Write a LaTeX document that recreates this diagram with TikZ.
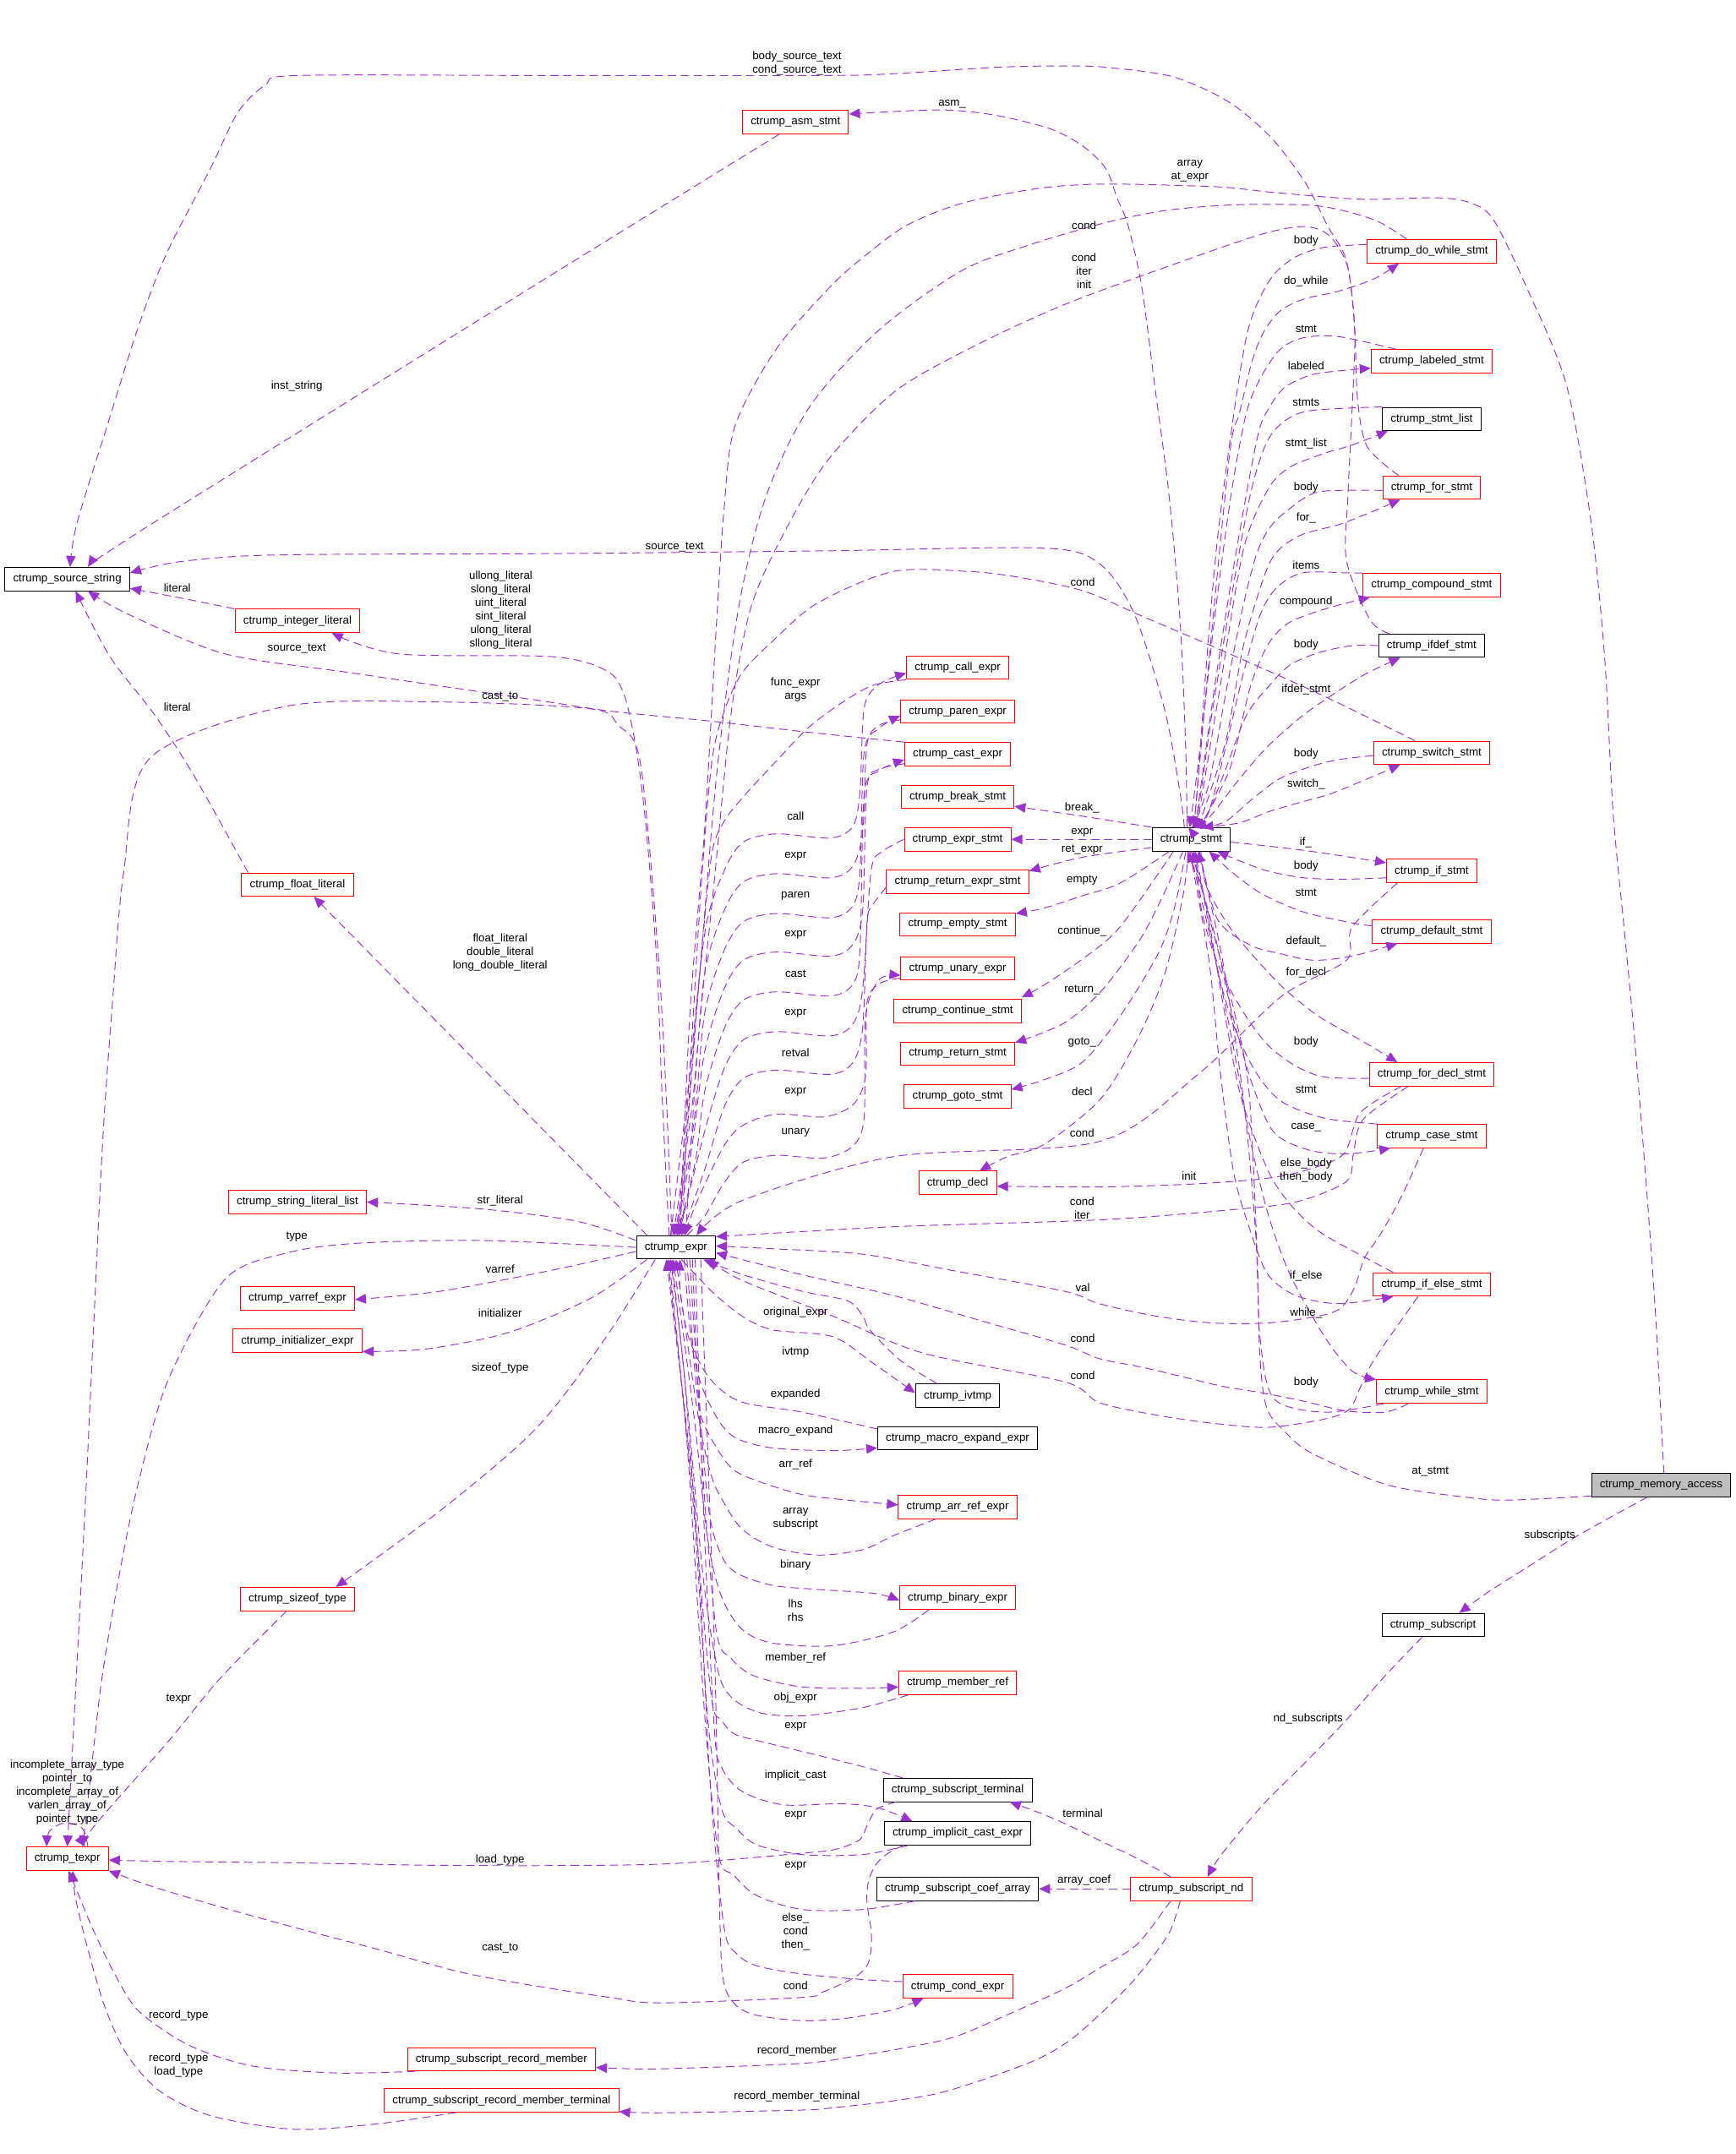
\documentclass[tikz,border=0pt]{standalone}
\usepackage{fontspec}
\setmainfont{Liberation Sans}
\usetikzlibrary{arrows.meta}

\definecolor{edgecol}{RGB}{154,50,205}
\definecolor{mainfill}{RGB}{191,191,191}

\tikzset{
  cls/.style={draw=red,line width=.6pt,minimum height=17pt,inner xsep=6pt,inner ysep=0pt},
  doc/.style={cls,draw=black},
  focus/.style={doc,fill=mainfill},
  lbl/.style={inner sep=0pt,align=center},
  edge/.style={draw=edgecol,line width=.6pt,dash pattern=on 6pt off 3.5pt,
               -{Triangle[length=8pt,width=7pt]}}
}

\begin{document}
\begin{tikzpicture}[x=1pt,y=-1pt,every node/.style={font=\fontsize{8.2}{9.85}\selectfont}]
\useasboundingbox (0,0) rectangle (1263,1568);

\node[doc] (srcstr) at (49,421.5) {ctrump\_source\_string};
\node[cls] (intlit) at (216.5,452) {ctrump\_integer\_literal};
\node[cls] (floatlit) at (216.5,644) {ctrump\_float\_literal};
\node[cls] (strlist) at (216.5,875) {ctrump\_string\_literal\_list};
\node[cls] (varref) at (216.5,945) {ctrump\_varref\_expr};
\node[cls] (initexpr) at (216.5,976) {ctrump\_initializer\_expr};
\node[cls] (sizeoft) at (216.5,1164) {ctrump\_sizeof\_type};
\node[cls] (texpr) at (49,1353) {ctrump\_texpr};
\node[cls] (recmem) at (365,1499) {ctrump\_subscript\_record\_member};
\node[cls] (recmemt) at (365,1529) {ctrump\_subscript\_record\_member\_terminal};

\node[doc] (expr) at (492,908) {ctrump\_expr};
\node[cls] (asmstmt) at (579,89) {ctrump\_asm\_stmt};
\node[cls] (callexpr) at (697,486) {ctrump\_call\_expr};
\node[cls] (parenexpr) at (697,518) {ctrump\_paren\_expr};
\node[cls] (castexpr) at (697,549) {ctrump\_cast\_expr};
\node[cls] (breakstmt) at (697,580) {ctrump\_break\_stmt};
\node[cls] (exprstmt) at (697,611) {ctrump\_expr\_stmt};
\node[cls] (retexpr) at (697,642) {ctrump\_return\_expr\_stmt};
\node[cls] (emptystmt) at (697,673) {ctrump\_empty\_stmt};
\node[cls] (unaryexpr) at (697,705) {ctrump\_unary\_expr};
\node[cls] (contstmt) at (697,736) {ctrump\_continue\_stmt};
\node[cls] (retstmt) at (697,767) {ctrump\_return\_stmt};
\node[cls] (gotostmt) at (697,798) {ctrump\_goto\_stmt};
\node[cls] (decl) at (697,861) {ctrump\_decl};
\node[doc] (ivtmp) at (697,1016) {ctrump\_ivtmp};
\node[doc] (macroexp) at (697,1047) {ctrump\_macro\_expand\_expr};
\node[cls] (arrref) at (697,1097) {ctrump\_arr\_ref\_expr};
\node[cls] (binexpr) at (697,1163) {ctrump\_binary\_expr};
\node[cls] (memref) at (697,1225) {ctrump\_member\_ref};
\node[doc] (subterm) at (697,1303) {ctrump\_subscript\_terminal};
\node[doc] (implcast) at (697,1334.5) {ctrump\_implicit\_cast\_expr};
\node[doc] (coefarr) at (697,1375) {ctrump\_subscript\_coef\_array};
\node[cls] (condexpr) at (697,1446) {ctrump\_cond\_expr};

\node[doc] (stmt) at (867,611) {ctrump\_stmt};
\node[cls] (dowhile) at (1042,183) {ctrump\_do\_while\_stmt};
\node[cls] (labeled) at (1042,263) {ctrump\_labeled\_stmt};
\node[doc] (stmtlist) at (1042,305) {ctrump\_stmt\_list};
\node[cls] (forstmt) at (1042,355) {ctrump\_for\_stmt};
\node[cls] (compound) at (1042,426) {ctrump\_compound\_stmt};
\node[doc] (ifdef) at (1042,470) {ctrump\_ifdef\_stmt};
\node[cls] (switchst) at (1042,548) {ctrump\_switch\_stmt};
\node[cls] (ifstmt) at (1042,634) {ctrump\_if\_stmt};
\node[cls] (defaultst) at (1042,678) {ctrump\_default\_stmt};
\node[cls] (fordecl) at (1042,782) {ctrump\_for\_decl\_stmt};
\node[cls] (casest) at (1042,827) {ctrump\_case\_stmt};
\node[cls] (ifelse) at (1042,935) {ctrump\_if\_else\_stmt};
\node[cls] (whilest) at (1042,1013) {ctrump\_while\_stmt};
\node[focus] (memacc) at (1209,1081) {ctrump\_memory\_access};
\node[doc] (subscr) at (1043,1183) {ctrump\_subscript};
\node[cls] (subnd) at (867,1375) {ctrump\_subscript\_nd};

\draw[edge] plot[smooth] coordinates {([xshift=-31pt]ifdef.north) (997,451) (980,408) (981,362) (984,300) (986,240) (980,190) (966,164) (950,133) (925,100) (894,74) (854,56) (805,49) (773,48) (725,49) (644,54) (592,55) (400,55) (216,55) (193,62) (173,82) (153,123) (121,185) (100,240) (78,310) (56,381) ([xshift=2pt]srcstr.north)};
\draw[edge] plot[smooth] coordinates {([xshift=-12pt]asmstmt.south) (387,209) (111,381) ([xshift=15pt]srcstr.north)};
\draw[edge] plot[smooth] coordinates {([xshift=-5pt]stmt.north) (859,578) (848,518) (826,448) (801,411) (760,399) (600,401) (400,403) (200,404) (130,409) ([yshift=4.5pt]srcstr.east)};
\draw[edge] plot[smooth] coordinates {(intlit.north west) (135,436) ([yshift=2pt]srcstr.south east)};
\draw[edge] plot[smooth] coordinates {(castexpr.north west) (588,533) (518,525) (447,518) (386,509) (257,490) (164,476) (93,447) ([xshift=15pt]srcstr.south)};
\draw[edge] plot[smooth] coordinates {([xshift=5pt]floatlit.north west) (142,566) (113,521) (80,478) ([xshift=6pt]srcstr.south)};

\draw[edge] plot[smooth] coordinates {([xshift=-5pt]expr.north) (482,800) (478,700) (470,600) (463,545) (454,505) (441,488) (402,478) (290,476) ([xshift=25pt]intlit.south)};
\draw[edge] plot[smooth] coordinates {([xshift=-3pt]expr.north) (485,800) (479,694) (466,555) (450,528) (430,516) (322,511) (209,514) (109,552) (90,635) (82,728) (74,844) (62,1096) (texpr.north)};
\draw[edge] plot coordinates {([xshift=8pt]expr.north west) ([xshift=12pt]floatlit.south)};
\draw[edge] plot[smooth] coordinates {([yshift=5pt]expr.west) (420,889) (350,880) (strlist.east)};
\draw[edge] plot[smooth] coordinates {([yshift=-3pt]expr.west) (400,925) (320,940) ([yshift=-1pt]varref.east)};
\draw[edge] plot[smooth] coordinates {([xshift=8pt]expr.south west) (430,945) (370,970) (310,982) ([yshift=1pt]initexpr.south east)};
\draw[edge] plot[smooth] coordinates {([xshift=14pt]expr.south west) (440,975) (390,1040) (320,1100) ([xshift=28pt]sizeoft.north)};
\draw[edge] plot[smooth] coordinates {(expr.west) (350,903) (260,905) (209,912) (164,931) (123,1003) (102,1074) (88,1140) (74,1223) (63,1320) ([xshift=11pt]texpr.north)};

\draw[edge] plot[smooth] coordinates {([xshift=-8pt]sizeoft.south) (160,1222) (123,1267) (68,1330) ([xshift=13pt]texpr.north)};
\draw[edge] plot[smooth] coordinates {([xshift=15pt]texpr.north) (60,1331) (47,1327) (36,1333) ([xshift=-15pt]texpr.north)};
\draw[edge] plot[smooth] coordinates {([xshift=6pt]recmem.south west) (245,1509) (184,1504) (138,1489) (101,1464) (83,1436) (67,1403) (55,1374) ([xshift=1pt]texpr.south)};
\draw[edge] plot[smooth] coordinates {([xshift=-33pt]recmemt.south) (275,1546) (214,1550) (153,1540) (116,1522) (92,1495) (76,1460) (64,1419) (55,1382) ([xshift=4pt]texpr.south)};
\draw[edge] plot[smooth] coordinates {([xshift=-45pt]subterm.south) (638,1317) (631,1329) (626,1339) (609,1346) (584,1349) (480,1357) (337,1358) (214,1356) (122,1355) ([yshift=-1pt]texpr.east)};
\draw[edge] plot[smooth] coordinates {([xshift=-40pt]implcast.south) (645,1350) (637,1358) (632,1370) (631,1385) (634,1405) (634,1419) (631,1431) (621,1440) (599,1450) (584,1454) (480,1458) (444,1454) (398,1447) (337,1436) (275,1419) (214,1403) (153,1386) (107,1372) (texpr.south east)};

\draw[edge] plot[smooth] coordinates {([xshift=-15pt]subnd.south) (828,1415) (803,1431) (774,1448) (730,1468) (694,1483) (657,1491) (621,1497) (584,1502) (480,1506) ([yshift=-6pt]recmem.east)};
\draw[edge] plot[smooth] coordinates {([xshift=-8pt]subnd.south) (852,1405) (840,1423) (823,1444) (803,1464) (779,1485) (755,1499) (718,1513) (682,1524) (645,1530) (609,1534) (584,1536) (480,1538) ([yshift=-8pt]recmemt.east)};
\draw[edge] plot[smooth] coordinates {([xshift=-15pt]subnd.north) (828,1353) (803,1341) (774,1327) (755,1319) ([xshift=38pt]subterm.south)};
\draw[edge] (subnd.west) -- (coefarr.east);
\draw[edge] plot[smooth] coordinates {([xshift=-8pt]subscr.south) (1008,1220) (979,1253) (949,1284) (919,1314) (889,1350) ([xshift=12pt]subnd.north)};
\draw[edge] plot[smooth] coordinates {([xshift=-10pt]memacc.south) (1173,1104) (1143,1121) (1113,1140) (1083,1159) ([xshift=19pt]subscr.north)};
\draw[edge] plot[smooth] coordinates {([yshift=-8pt]memacc.west) (1098,1092) (1068,1090) (1010,1081) (955,1058) (935,1042) (922,1025) (917,988) (914,900) (905,800) (890,700) (877,640) ([xshift=5pt]stmt.south)};
\draw[edge] plot[smooth] coordinates {([xshift=2pt]memacc.north) (1209,1034) (1205,958) (1199,873) (1190,760) (1182,675) (1174,591) (1168,480) (1158,380) (1140,280) (1111,209) (1087,160) (1071,148) (1047,144) (990,145) (926,140) (886,136) (805,134) (757,137) (700,148) (660,164) (631,185) (604,209) (565,254) (535,310) (527,370) (521,462) (513,601) (502,740) ([xshift=3pt]expr.north)};

\draw[edge] plot[smooth] coordinates {([xshift=-18pt]dowhile.north) (1000,160) (960,150) (902,149) (850,153) (805,162) (750,178) (700,197) (640,240) (590,295) (558,360) (538,440) (522,560) (510,700) (500,820) ([xshift=5pt]expr.north)};
\draw[edge] plot[smooth] coordinates {([xshift=-24pt]forstmt.north) (995,325) (988,290) (986,240) (981,195) (968,172) (950,165) (920,170) (861,190) (774,222) (705,254) (650,286) (601,337) (568,393) (546,444) (532,520) (520,640) (508,760) ([xshift=7pt]expr.north)};
\draw[edge] plot[smooth] coordinates {([xshift=-12pt]switchst.north) (960,505) (886,472) (830,448) (788,430) (740,420) (705,416) (650,416) (595,439) (562,467) (540,490) (527,518) (518,555) (510,650) (502,780) ([xshift=1pt]expr.north)};
\draw[edge] plot[smooth] coordinates {(callexpr.south west) (635,499) (612,512) (588,530) (565,554) (541,580) (527,598) (518,622) (510,700) (502,800) ([xshift=2pt]expr.north)};

\draw[edge] plot[smooth] coordinates {([xshift=-4pt]expr.north) (500,800) (513,679) (527,634) (541,613) (565,607) (605,610) (621,601) (626,575) (629,515) (640,498) ([yshift=-4pt]callexpr.west)};
\draw[edge] plot[smooth] coordinates {([yshift=-6pt]parenexpr.west) (640,528) (631,542) (628,604) (621,630) (605,639) (565,636) (541,642) (527,663) (513,708) (504,803) ([xshift=-2pt]expr.north)};
\draw[edge] plot[smooth] coordinates {([xshift=-1pt]expr.north) (505,817) (513,737) (527,692) (541,671) (565,665) (605,668) (621,659) (626,633) (629,547) (640,530) ([yshift=-3pt]parenexpr.west)};
\draw[edge] plot[smooth] coordinates {([yshift=-7pt]castexpr.west) (640,560) (631,573) (628,661) (621,687) (605,696) (565,693) (541,699) (527,720) (513,765) (504,832) (expr.north)};
\draw[edge] plot[smooth] coordinates {([xshift=1pt]expr.north) (506,846) (513,794) (527,749) (541,728) (565,722) (605,725) (621,716) (626,690) (629,578) (640,561) ([yshift=-4pt]castexpr.west)};
\draw[edge] plot[smooth] coordinates {(exprstmt.west) (642,620) (634,634) (628,719) (621,745) (605,754) (565,751) (541,757) (527,778) (513,823) ([xshift=2pt]expr.north)};
\draw[edge] plot[smooth] coordinates {([yshift=-4pt]retexpr.west) (635,659) (631,672) (628,747) (621,773) (605,782) (565,779) (541,785) (527,806) (513,851) ([xshift=4pt]expr.north)};
\draw[edge] plot[smooth] coordinates {([yshift=-7pt]unaryexpr.west) (640,716) (631,730) (630,783) (621,804) (600,813) (565,811) (541,819) (527,834) (508,873) ([xshift=6pt]expr.north)};
\draw[edge] plot[smooth] coordinates {([xshift=8pt]expr.north) (513,885) (527,861) (541,846) (565,841) (600,843) (621,834) (629,813) (630,740) (640,713) ([yshift=-5pt]unaryexpr.west)};

\draw[edge] plot[smooth] coordinates {([xshift=-15pt]ivtmp.north) (655,990) (633,968) (628,958) (617,947) (584,940) (541,928) ([xshift=20pt]expr.south)};
\draw[edge] plot[smooth] coordinates {([xshift=4pt]expr.south) (518,940) (540,958) (562,968) (606,973) (635,992) ([yshift=2pt]ivtmp.west)};
\draw[edge] plot[smooth] coordinates {([yshift=-2pt]macroexp.north west) (584,1028) (545,1022) (529,1015) (514,1000) (501,973) (495,940) ([xshift=3pt]expr.south)};
\draw[edge] plot[smooth] coordinates {([xshift=6pt]expr.south) (503,975) (510,1007) (523,1034) (536,1047) (562,1054) (606,1056) ([yshift=-7pt]macroexp.west)};
\draw[edge] plot[smooth] coordinates {([xshift=8pt]expr.south) (505,990) (510,1030) (521,1053) (534,1070) (554,1079) (584,1088) (617,1092) ([yshift=1.5pt]arrref.west)};
\draw[edge] plot[smooth] coordinates {([xshift=-16pt]arrref.south) (650,1118) (628,1128) (595,1132) (562,1126) (540,1113) (527,1094) (518,1075) (508,1030) (expr.south)};
\draw[edge] plot[smooth] coordinates {([xshift=10pt]expr.south) (508,1010) (516,1100) (525,1132) (536,1145) (562,1154) (595,1157) (637,1160) ([yshift=-2pt]binexpr.west)};
\draw[edge] plot[smooth] coordinates {([xshift=-21pt]binexpr.south) (650,1188) (606,1198) (562,1196) (540,1186) (525,1162) (515,1120) (505,1030) ([xshift=-2pt]expr.south)};
\draw[edge] plot[smooth] coordinates {([xshift=12pt]expr.south) (510,1050) (521,1185) (532,1207) (549,1220) (584,1228) (628,1229) ([yshift=-3pt]memref.west)};
\draw[edge] plot[smooth] coordinates {([xshift=-36pt]memref.south) (628,1243) (584,1249) (554,1247) (534,1237) (523,1218) (512,1150) (500,1020) ([xshift=-3pt]expr.south)};
\draw[edge] plot[smooth] coordinates {([xshift=-40pt]subterm.north) (628,1286) (584,1275) (551,1267) (534,1262) (525,1252) (518,1237) (508,1130) (498,1000) ([xshift=-4pt]expr.south)};
\draw[edge] plot[smooth] coordinates {([xshift=14pt]expr.south) (512,1100) (520,1260) (525,1286) (536,1301) (551,1309) (573,1314) (613,1313) (639,1316) ([xshift=-33pt]implcast.north)};
\draw[edge] plot[smooth] coordinates {([xshift=-36pt]implcast.south) (628,1350) (584,1350) (551,1343) (536,1331) (525,1316) (515,1250) (505,1100) ([xshift=-5pt]expr.south)};
\draw[edge] plot[smooth] coordinates {([xshift=-31pt]coefarr.south) (628,1390) (584,1390) (551,1380) (534,1365) (523,1350) (513,1250) (500,1050) ([xshift=-6pt]expr.south)};
\draw[edge] plot[smooth] coordinates {([yshift=3.5pt]condexpr.west) (628,1441) (584,1437) (551,1431) (536,1422) (527,1403) (517,1300) (506,1100) ([xshift=-7pt]expr.south)};
\draw[edge] plot[smooth] coordinates {([xshift=18pt]expr.south) (520,1200) (524,1400) (527,1444) (536,1460) (551,1467) (584,1471) (617,1469) (650,1463) ([xshift=-25pt]condexpr.south)};

\draw[edge] plot[smooth] coordinates {([yshift=5pt]dowhile.west) (964,180) (943,187) (927,200) (915,221) (907,246) (898,301) (886,393) (878,484) (870,590) ([xshift=-2pt]stmt.north)};
\draw[edge] plot[smooth] coordinates {([xshift=2pt]stmt.north) (880,480) (895,330) (902,301) (911,264) (919,243) (931,227) (948,218) (974,212) (1000,203) ([xshift=-24pt]dowhile.south)};
\draw[edge] plot[smooth] coordinates {([xshift=-26pt]labeled.north) (974,245) (948,246) (931,255) (917,276) (907,301) (896,360) (884,450) (874,540) ([xshift=-1pt]stmt.north)};
\draw[edge] plot[smooth] coordinates {([xshift=3pt]stmt.north) (884,500) (900,400) (915,319) (923,298) (935,282) (954,273) (974,270) ([yshift=-5pt]labeled.west)};
\draw[edge] plot[smooth] coordinates {(stmtlist.north west) (953,299) (933,308) (921,324) (910,360) (897,430) (882,520) (872,590) (stmt.north)};
\draw[edge] plot[smooth] coordinates {([xshift=4pt]stmt.north) (888,500) (905,400) (923,356) (939,340) (964,330) (984,324) ([xshift=-32pt]stmtlist.south)};
\draw[edge] plot[smooth] coordinates {([yshift=-2pt]forstmt.west) (960,358) (939,370) (925,383) (915,402) (905,440) (893,500) (880,570) ([xshift=1pt]stmt.north)};
\draw[edge] plot[smooth] coordinates {([xshift=5pt]stmt.north) (892,540) (905,470) (921,417) (931,400) (948,389) (974,382) (995,374) ([xshift=-23pt]forstmt.south)};
\draw[edge] plot[smooth] coordinates {(compound.north west) (980,417) (948,417) (929,428) (917,448) (905,490) (893,540) (880,590) ([xshift=2pt]stmt.north)};
\draw[edge] plot[smooth] coordinates {([xshift=6pt]stmt.north) (895,560) (910,500) (923,469) (937,454) (956,446) (976,440) ([xshift=-45pt]compound.south)};
\draw[edge] plot[smooth] coordinates {(ifdef.west) (984,470) (960,475) (939,484) (923,500) (907,521) (892,560) (878,595) ([xshift=3pt]stmt.north)};
\draw[edge] plot[smooth] coordinates {([xshift=7pt]stmt.north) (886,588) (902,567) (923,543) (948,521) (974,503) (995,490) ([xshift=-23pt]ifdef.south)};
\draw[edge] plot[smooth] coordinates {([yshift=-2pt]switchst.west) (974,553) (954,558) (931,567) (911,582) (892,598) ([xshift=8pt]stmt.north)};
\draw[edge] plot[smooth] coordinates {([xshift=9pt]stmt.north) (902,599) (923,591) (943,585) (968,578) (995,567) ([xshift=-23pt]switchst.south)};

\draw[edge] plot[smooth] coordinates {([yshift=-2pt]stmt.east) (949,619) ([yshift=6pt]ifstmt.west)};
\draw[edge] plot[smooth] coordinates {([yshift=-5pt]ifstmt.west) (979,640) (949,639) (919,633) ([xshift=19pt]stmt.south)};
\draw[edge] plot[smooth] coordinates {([yshift=4pt]defaultst.west) (985,672) (949,664) (919,651) (898,636) ([xshift=13pt]stmt.south)};
\draw[edge] plot[smooth] coordinates {([xshift=6pt]stmt.south) (886,669) (910,688) (931,694) (956,699) (984,696) ([xshift=-25pt]defaultst.south)};
\draw[edge] plot[smooth] coordinates {([xshift=7pt]stmt.south) (878,645) (895,675) (915,699) (935,720) (960,740) (990,757) ([xshift=-25pt]fordecl.north)};
\draw[edge] plot[smooth] coordinates {([yshift=-3pt]fordecl.west) (964,784) (943,776) (923,761) (907,740) (892,714) (882,690) (874,660) ([xshift=3pt]stmt.south)};
\draw[edge] plot[smooth] coordinates {(casest.north west) (964,814) (933,802) (915,782) (900,752) (888,714) (880,675) (874,640) ([xshift=2pt]stmt.south)};
\draw[edge] plot[smooth] coordinates {(stmt.south) (884,680) (896,735) (911,788) (927,824) (952,837) (980,840) ([xshift=-30pt]casest.south)};
\draw[edge] plot[smooth] coordinates {([xshift=-28pt]ifelse.north) (964,899) (943,881) (927,860) (915,833) (902,794) (890,730) (878,660) ([xshift=1pt]stmt.south)};
\draw[edge] plot[smooth] coordinates {([xshift=-1pt]stmt.south) (880,700) (888,779) (898,854) (911,899) (923,928) (943,943) (974,949) ([xshift=-28pt]ifelse.south)};
\draw[edge] plot[smooth] coordinates {([xshift=-1pt]stmt.south) (885,700) (898,764) (910,830) (923,884) (939,928) (964,973) (984,998) (whilest.north west)};
\draw[edge] plot[smooth] coordinates {([xshift=-35pt]whilest.south) (964,1028) (927,1018) (917,973) (915,913) (909,794) (898,735) (886,690) (874,645) ([xshift=-3pt]stmt.south)};

\draw[edge] plot[smooth] coordinates {(stmt.north west) (787,594) ([yshift=-7pt]breakstmt.east)};
\draw[edge] (stmt.west) -- (exprstmt.east);
\draw[edge] plot[smooth] coordinates {([yshift=-6pt]stmt.west) (788,624) ([yshift=8pt]retexpr.east)};
\draw[edge] plot[smooth] coordinates {([xshift=-16pt]stmt.south) (815,643) (788,652) (760,661) ([yshift=8pt]emptystmt.east)};
\draw[edge] plot[smooth] coordinates {([xshift=-13pt]stmt.south) (815,675) (788,698) (760,717) ([yshift=10pt]contstmt.east)};
\draw[edge] plot[smooth] coordinates {([xshift=-6pt]stmt.south) (845,655) (829,685) (801,722) (774,745) ([yshift=8pt]retstmt.east)};
\draw[edge] plot[smooth] coordinates {([xshift=-4pt]stmt.south) (855,660) (843,694) (815,740) (788,773) (760,786) ([yshift=5pt]gotostmt.east)};
\draw[edge] plot[smooth] coordinates {([xshift=-2pt]stmt.south) (861,652) (848,708) (829,754) (801,800) (760,833) (733,842) ([xshift=16pt]decl.north)};
\draw[edge] plot[smooth] coordinates {([xshift=-22pt]fordecl.south) (990,810) (978,840) (950,852) (920,858) (866,862) (800,864) ([yshift=-2.5pt]decl.east)};
\draw[edge] plot[smooth] coordinates {([xshift=-17pt]fordecl.south) (992,815) (985,840) (980,860) (943,875) (892,881) (800,888) (650,893) ([yshift=-1pt]expr.north east)};
\draw[edge] plot[smooth] coordinates {([xshift=-25pt]ifstmt.south) (984,675) (980,699) (933,725) (872,782) (800,831) (650,842) (540,874) ([xshift=15pt]expr.north)};
\draw[edge] plot[smooth] coordinates {([xshift=-6pt]casest.south) (1021,869) (1005,898) (993,916) (986,937) (976,952) (960,958) (923,963) (882,963) (841,958) (800,949) (775,940) (694,925) (628,913) (562,909) ([yshift=1pt]expr.east)};
\draw[edge] plot[smooth] coordinates {([xshift=-17pt]whilest.south) (1008,1028) (979,1027) (949,1020) (919,1014) (889,1009) (860,1002) (830,995) (800,989) (775,979) (716,962) (650,943) (584,928) ([yshift=-4pt]expr.east)};
\draw[edge] plot[smooth] coordinates {([xshift=-10pt]ifelse.south) (1020,961) (1008,978) (997,995) (990,1010) (982,1026) (964,1033) (923,1039) (882,1036) (841,1030) (800,1021) (775,1006) (672,985) (606,958) (540,932) ([xshift=-6pt]expr.south east)};
\draw[edge] plot[smooth] coordinates {([xshift=-3pt]stmt.north) (863,546) (859,454) (851,362) (841,285) (831,209) (821,164) (813,144) (805,123) (789,107) (765,94) (725,84) (684,80) ([yshift=6pt]asmstmt.east)};

\node[lbl] (l-bst) at (580,46) {body\_source\_text\\cond\_source\_text};
\node[lbl] (l-asm) at (693,76) {asm\_};
\node[lbl] (l-arr) at (866,124.5) {array\\at\_expr};
\node[lbl] (l-dwc) at (789,164) {cond};
\node[lbl] (l-fci) at (789,197.5) {cond\\iter\\init};
\node[lbl] (l-inst) at (216,281) {inst\_string};
\node[lbl] (l-src1) at (491,398.5) {source\_text};
\node[lbl] (l-swc) at (788,423.5) {cond};
\node[lbl] (l-lit1) at (129,428) {literal};
\node[lbl] (l-ull) at (364.5,444) {ullong\_literal\\slong\_literal\\uint\_literal\\sint\_literal\\ulong\_literal\\sllong\_literal};
\node[lbl] (l-src2) at (216,472) {source\_text};
\node[lbl] (l-cast1) at (364,507) {cast\_to};
\node[lbl] (l-lit2) at (129,515) {literal};
\node[lbl] (l-func) at (579,502) {func\_expr\\args};
\node[lbl] (l-flt) at (364,693) {float\_literal\\double\_literal\\long\_double\_literal};
\node[lbl] (l-str) at (364,874) {str\_literal};
\node[lbl] (l-type) at (216,900) {type};
\node[lbl] (l-varref) at (364,924) {varref};
\node[lbl] (l-init) at (364,956) {initializer};
\node[lbl] (l-sizeof) at (364,996) {sizeof\_type};
\node[lbl] (l-texpr) at (130,1237) {texpr};
\node[lbl] (l-self) at (49,1304.5) {incomplete\_array\_type\\pointer\_to\\incomplete\_array\_of\\varlen\_array\_of\\pointer\_type};
\node[lbl] (l-load) at (364,1354) {load\_type};
\node[lbl] (l-cast2) at (364,1418) {cast\_to};
\node[lbl] (l-rec1) at (130,1467) {record\_type};
\node[lbl] (l-rec2) at (130,1503.5) {record\_type\\load\_type};
\node[lbl] (l-rm) at (580,1493) {record\_member};
\node[lbl] (l-rmt) at (580,1526) {record\_member\_terminal};
\node[lbl] (l-coef) at (789,1369) {array\_coef};
\node[lbl] (l-term) at (788,1320) {terminal};
\node[lbl] (l-nd) at (952,1251) {nd\_subscripts};
\node[lbl] (l-subs) at (1128,1118) {subscripts};
\node[lbl] (l-at) at (1041,1071) {at\_stmt};

\node[lbl] (l-r1) at (950.6,175.2) {body};
\node[lbl] (l-r2) at (950.6,205.1) {do\_while};
\node[lbl] (l-r3) at (950.6,239.4) {stmt};
\node[lbl] (l-r4) at (950.6,266.1) {labeled};
\node[lbl] (l-r5) at (950.6,293) {stmts};
\node[lbl] (l-r6) at (950.6,322.7) {stmt\_list};
\node[lbl] (l-r7) at (950.6,354.8) {body};
\node[lbl] (l-r8) at (950.6,377.2) {for\_};
\node[lbl] (l-r9) at (950.6,411.2) {items};
\node[lbl] (l-r10) at (950.6,437.8) {compound};
\node[lbl] (l-r11) at (950.6,469.6) {body};
\node[lbl] (l-r12) at (950.6,501.8) {ifdef\_stmt};
\node[lbl] (l-r13) at (950.6,548.6) {body};
\node[lbl] (l-r14) at (950.6,570.6) {switch\_};
\node[lbl] (l-r15) at (950.4,613.2) {if\_};
\node[lbl] (l-r16) at (950.6,630.4) {body};
\node[lbl] (l-r17) at (950.6,649.5) {stmt};
\node[lbl] (l-r18) at (950.6,685) {default\_};
\node[lbl] (l-r19) at (950.6,708.2) {for\_decl};
\node[lbl] (l-r20) at (950.6,758.3) {body};
\node[lbl] (l-r21) at (950.6,792.9) {stmt};
\node[lbl] (l-r22) at (950.6,820.7) {case\_};
\node[lbl] (l-r23) at (950.6,851.8) {else\_body\\then\_body};
\node[lbl] (l-r24) at (950.6,928.6) {if\_else};
\node[lbl] (l-r25) at (950.6,955.7) {while\_};
\node[lbl] (l-r26) at (950.6,1006.1) {body};
\node[lbl] (l-fdi) at (865.4,856) {init};

\node[lbl] (l-s1) at (787.6,587.8) {break\_};
\node[lbl] (l-s2) at (787.6,606) {expr};
\node[lbl] (l-s3) at (787.6,618.3) {ret\_expr};
\node[lbl] (l-s4) at (787.6,640.6) {empty};
\node[lbl] (l-s5) at (787.6,677.6) {continue\_};
\node[lbl] (l-s6) at (787.6,720.7) {return\_};
\node[lbl] (l-s7) at (787.6,758.6) {goto\_};
\node[lbl] (l-s8) at (787.6,794.7) {decl};
\node[lbl] (l-c1) at (787.6,824.8) {cond};
\node[lbl] (l-c2) at (787.6,879.2) {cond\\iter};
\node[lbl] (l-c3) at (788,937) {val};
\node[lbl] (l-c4) at (788,974) {cond};
\node[lbl] (l-c5) at (788,1001) {cond};

\node[lbl] (l-b1) at (579,594.2) {call};
\node[lbl] (l-b2) at (579,623.1) {expr};
\node[lbl] (l-b3) at (579,652) {paren};
\node[lbl] (l-b4) at (579,680.3) {expr};
\node[lbl] (l-b5) at (579,709) {cast};
\node[lbl] (l-b6) at (579,737.9) {expr};
\node[lbl] (l-b7) at (579,766.2) {retval};
\node[lbl] (l-b8) at (579,795.1) {expr};
\node[lbl] (l-b9) at (579,824.4) {unary};
\node[lbl] (l-e1) at (579,955.1) {original\_expr};
\node[lbl] (l-e2) at (579,984.1) {ivtmp};
\node[lbl] (l-e3) at (579,1015) {expanded};
\node[lbl] (l-e4) at (579,1041.3) {macro\_expand};
\node[lbl] (l-e5) at (579,1065.8) {arr\_ref};
\node[lbl] (l-e6) at (579,1105.8) {array\\subscript};
\node[lbl] (l-e7) at (579,1139) {binary};
\node[lbl] (l-e8) at (579,1172.1) {lhs\\rhs};
\node[lbl] (l-e9) at (579,1206.7) {member\_ref};
\node[lbl] (l-e10) at (579,1235.7) {obj\_expr};
\node[lbl] (l-e11) at (579,1257.2) {expr};
\node[lbl] (l-e12) at (579,1292.2) {implicit\_cast};
\node[lbl] (l-e13) at (579,1321.2) {expr};
\node[lbl] (l-e14) at (579,1358.5) {expr};
\node[lbl] (l-e15) at (579,1406) {else\_\\cond\\then\_};
\node[lbl] (l-e16) at (579,1445.5) {cond};
\end{tikzpicture}
\end{document}
